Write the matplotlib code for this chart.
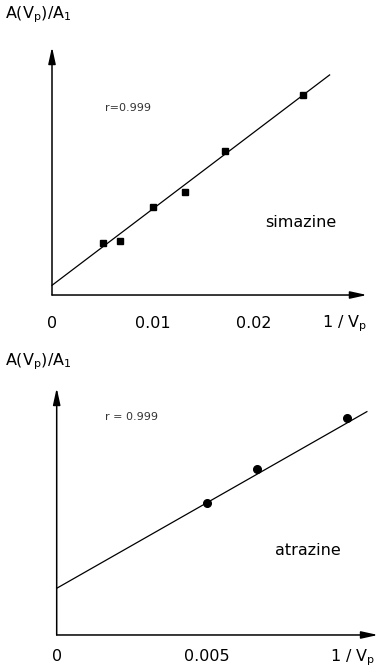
import matplotlib.pyplot as plt
import numpy as np

plt.rcParams['font.family'] = ['DejaVu Sans']

# simazine: 1/Vp vs A(Vp)/A1 (arbitrary units)
simazine_x = [0.00508, 0.00673, 0.0100, 0.0132, 0.0171, 0.0249]
simazine_y = [0.517, 0.543, 0.883, 1.033, 1.443, 2.000]
simazine_fit = (0.097, 76.5)       # intercept, slope
simazine_ticks = [0, 0.01, 0.02]
simazine_ticklabels = ['0', '0.01', '0.02']

# atrazine
atrazine_x = [0.0050, 0.00666, 0.00963]
atrazine_y = [1.317, 1.657, 2.167]
atrazine_fit = (0.467, 171.5)
atrazine_ticks = [0, 0.005]
atrazine_ticklabels = ['0', '0.005']

fig = plt.figure(figsize=(3.79, 6.67), dpi=100)
TXT = dict(fontsize=11.5)


def panel(rect, xs, ys, fit, xmax, ymax, line_end, marker, ms,
          ticks, ticklabels, pad, name, name_xy, r_text, r_xy, xlab_xy, ylab_xy):
    ax = fig.add_axes(rect)
    ax.set_xlim(0, xmax)
    ax.set_ylim(0, ymax)
    for s in ax.spines.values():
        s.set_visible(False)
    ax.set_yticks([])
    ax.set_xticks(ticks)
    ax.set_xticklabels(ticklabels, **TXT)
    ax.tick_params(axis='x', length=0, pad=pad)

    # axes drawn as arrows
    arrow = dict(arrowstyle='-|>,head_length=1.0,head_width=0.22', color='black', lw=1.1,
                 shrinkA=0, shrinkB=0)
    ax.annotate('', xy=(xmax, 0), xytext=(0, 0), arrowprops=arrow, annotation_clip=False)
    ax.annotate('', xy=(0, ymax), xytext=(0, 0), arrowprops=arrow, annotation_clip=False)

    b, m = fit
    xl = np.array([0, line_end])
    ax.plot(xl, b + m * xl, color='black', lw=0.9, clip_on=False)
    ax.plot(xs, ys, linestyle='none', marker=marker, ms=ms, color='black', clip_on=False)

    ax.text(*name_xy, name, transform=ax.transAxes, ha='left', va='center', **TXT)
    ax.text(*r_xy, r_text, transform=ax.transAxes, fontsize=8, color='#333333',
            ha='left', va='center')
    ax.text(*xlab_xy, r'1 / V$_\mathregular{p}$', transform=ax.transAxes,
            ha='right', va='center', **TXT)
    ax.text(*ylab_xy, r'A(V$_\mathregular{p}$)/A$_\mathregular{1}$',
            transform=ax.transAxes, ha='left', va='center', **TXT)
    return ax


panel([0.1372, 0.5577, 0.831, 0.3718], simazine_x, simazine_y, simazine_fit,
      0.0312, 2.48, 0.0275, 's', 5, simazine_ticks, simazine_ticklabels, 15,
      'simazine', (0.676, 0.294), 'r=0.999', (0.168, 0.754), (1.0, -0.115),
      (-0.149, 1.129))

panel([0.1496, 0.048, 0.8478, 0.3703], atrazine_x, atrazine_y, atrazine_fit,
      0.01067, 2.47, 0.0103, 'o', 5.5, atrazine_ticks, atrazine_ticklabels, 10,
      'atrazine', (0.679, 0.344), 'r = 0.999', (0.150, 0.883), (0.99, -0.09),
      (-0.161, 1.105))

fig.savefig('out.png', dpi=100)
